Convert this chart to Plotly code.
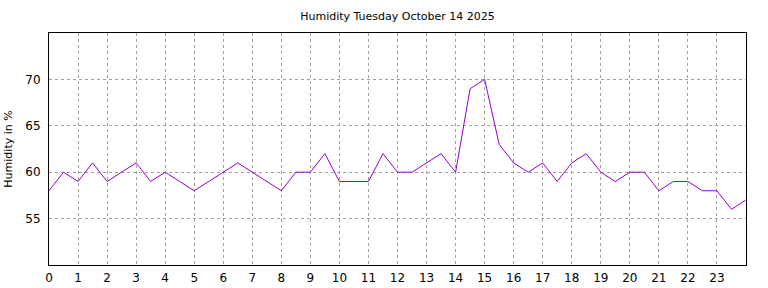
import plotly.graph_objects as go

hours = [i * 0.5 for i in range(48)] + [23.99]
humidity = [58, 60, 59, 61, 59, 60, 61, 59, 60, 59, 58, 59, 60, 61, 60, 59,
            58, 60, 60, 62, 59, 59, 59, 62, 60, 60, 61, 62, 60, 69, 70, 63,
            61, 60, 61, 59, 61, 62, 60, 59, 60, 60, 58, 59, 59, 58, 58, 56, 57]
x_ticks = list(range(24))
y_ticks = [55, 60, 65, 70]

fig = go.Figure(go.Scatter(x=hours, y=humidity, mode="lines",
                           line=dict(color="#9400d3", width=1), hoverinfo="x+y"))

axis_common = dict(showline=True, linecolor="black", linewidth=1, mirror=True,
                   ticks="", automargin=False,
                   showgrid=True, gridcolor="#a0a0a0", griddash="dot", gridwidth=1,
                   zeroline=False, tickfont=dict(family="DejaVu Sans", size=12, color="black"))

fig.update_layout(
    width=768, height=288,
    margin=dict(l=49, r=22, t=33, b=23),
    paper_bgcolor="white", plot_bgcolor="white",
    showlegend=False,
    title=dict(text="Humidity Tuesday October 14 2025", x=0.5, xanchor="center", xref="paper",
               y=1 - 16 / 288, yanchor="middle",
               font=dict(family="DejaVu Sans", size=11, color="black")),
    xaxis=dict(range=[0, 24], tickvals=x_ticks, ticktext=[str(t) for t in x_ticks],
               ticklabelstandoff=2, **axis_common),
    yaxis=dict(range=[50, 75], tickvals=y_ticks, ticktext=[str(t) for t in y_ticks],
               ticklabelstandoff=5,
               title=dict(text="Humidity in %", font=dict(family="DejaVu Sans", size=11, color="black"), standoff=10),
               **axis_common),
)

fig.write_html("out.html")
